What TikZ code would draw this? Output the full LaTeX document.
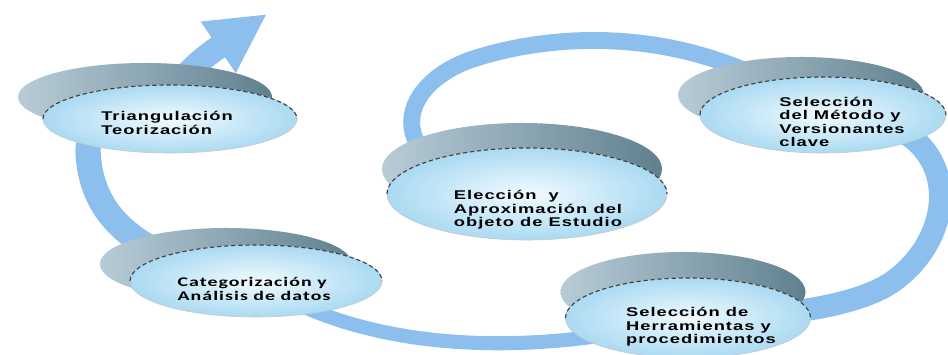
\documentclass[tikz,border=0pt]{standalone}
\usepackage{fontspec}
\usepackage{tikz}
\usetikzlibrary{arrows.meta,backgrounds,shapes.geometric,positioning}
\usepackage{xcolor}
\newfontfamily\discfont{Liberation Sans}[FakeStretch=1.45,LetterSpace=8]
\newfontfamily\discfontc{Carlito}[FakeStretch=1.5,LetterSpace=8]
\definecolor{ribboncol}{RGB}{140,190,238}
\definecolor{capleft}{RGB}{184,204,215}
\definecolor{capright}{RGB}{96,128,142}
\definecolor{facein}{RGB}{242,251,255}
\definecolor{faceout}{RGB}{170,218,242}
\definecolor{rimcol}{RGB}{55,65,75}

\begin{document}
\begin{tikzpicture}[x=0.025cm,y=-0.025cm]
\tikzstyle{disccap} = [ellipse, shade, left color=capleft, right color=capright,
outer sep=0pt, inner sep=0pt]
\tikzstyle{discface} = [ellipse, shade, inner color=facein, outer color=faceout,
draw=gray!45, outer sep=0pt, inner sep=0pt]
\tikzstyle{rimline} = [draw=rimcol, densely dashed, line width=0.8pt]
\tikzstyle{lbl} = [align=left, inner sep=0pt,
font=\discfont\bfseries\fontsize{9}{9.6}\selectfont]
\tikzstyle{ribbon} = [draw=ribboncol, line cap=butt];
\useasboundingbox (0,0) rectangle (948,355);

% disc 1
\node[disccap, minimum width=7cm, minimum height=2.3cm] (elec-cap) at (522,169) {};
\node[discface, minimum width=7cm, minimum height=2.3cm] (elec) at (527,194) {};
\draw[rimline] (elec.west) arc[start angle=180, end angle=0, x radius=3.5cm, y radius=1.15cm];
\node[lbl] (elec-txt) at ([shift={(11,16)}]elec.center) {Elección \ y\\Aproximación del\\objeto de Estudio};
% disc 2
\node[disccap, minimum width=6.15cm, minimum height=1.9cm] (met-cap) at (801,95) {};
\node[discface, minimum width=6.15cm, minimum height=1.9cm] (met) at (823,115) {};
\draw[rimline] (met.west) arc[start angle=180, end angle=0, x radius=3.075cm, y radius=0.95cm];
\node[lbl] (met-txt) at ([shift={(19,7)}]met.center) {Selección\\del Método y\\Versionantes\\clave};
% disc 3
\node[disccap, minimum width=6.125cm, minimum height=2cm] (herr-cap) at (683,292) {};
\node[discface, minimum width=6.125cm, minimum height=2cm] (herr) at (688,318) {};
\draw[rimline] (herr.west) arc[start angle=180, end angle=0, x radius=3.0625cm, y radius=1cm];
\node[lbl] (herr-txt) at ([shift={(13,9)}]herr.center) {Selección de\\Herramientas y\\procedimientos};
% disc 4
\node[disccap, minimum width=6.3cm, minimum height=1.8cm] (categ-cap) at (226,264) {};
\node[discface, minimum width=6.3cm, minimum height=1.8cm] (categ) at (256,281) {};
\draw[rimline] (categ.west) arc[start angle=180, end angle=0, x radius=3.15cm, y radius=0.9cm];
\node[lbl, font=\discfontc\bfseries\fontsize{9.4}{10}\selectfont] (categ-txt) at ([shift={(-2,8)}]categ.center) {Categorización y\\Análisis de datos};
% disc 5
\node[disccap, minimum width=6.35cm, minimum height=1.7cm] (triang-cap) at (145,97) {};
\node[discface, minimum width=6.35cm, minimum height=1.7cm] (triang) at (170,119) {};
\draw[rimline] (triang.west) arc[start angle=180, end angle=0, x radius=3.175cm, y radius=0.85cm];
\node[lbl] (triang-txt) at ([shift={(-3,4)}]triang.center) {Triangulación\\Teorización};

\coordinate (tip) at (267,14);

% the spiral band
\begin{scope}[on background layer]
\path[ribbon, line width=12pt] (elec.center) .. controls (380,175) and (388,90) .. (470,60)
 .. controls (560,30) and (700,25) .. (met.center);
\path[ribbon, line width=16pt] (met.center) .. controls (960,110) and (967,226) .. (895,280)
 .. controls (855,310) and (760,318) .. (herr.center);
\path[ribbon, line width=10pt] (herr.center) .. controls (560,352) and (380,362) .. (categ.center);
\path[ribbon, line width=18pt] (categ.center) .. controls (145,262) and (90,222) .. (88,150)
 .. controls (88,130) and (120,120) .. (triang.center);
\path[ribbon, line width=17pt, -{Triangle[length=42pt,width=41pt]}] (triang.center)
 .. controls (165,95) and (185,70) .. (tip);
\end{scope}

\end{tikzpicture}
\end{document}
